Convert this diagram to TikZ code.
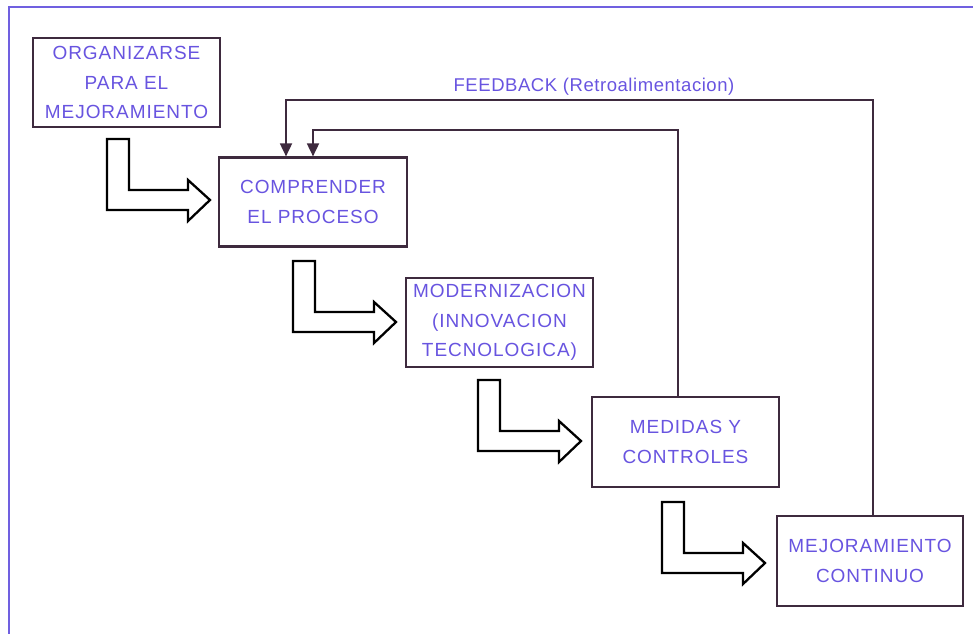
\documentclass[tikz,border=0pt]{standalone}
\usepackage{fontspec}
\setmainfont{Liberation Sans}
\usetikzlibrary{arrows.meta}
\definecolor{txt}{RGB}{104,84,224}
\definecolor{edge}{RGB}{62,42,62}
\definecolor{frame}{RGB}{112,96,224}
\tikzset{
  box/.style={draw=edge, line width=2.2pt, fill=white, minimum width=#1, inner sep=0pt,
    align=center, text=txt, font=\fontsize{19}{29.5}\selectfont\addfontfeatures{LetterSpace=5}},
  fb/.style={draw=edge, line width=1.8pt, -{Triangle[length=13pt,width=12pt]}},
  bentarrow/.pic={
    \draw[line width=2.3pt, line join=miter, fill=white]
      (0,0) -- (22,0) -- (22,51) -- (81,51) -- (81,41) -- (103,61) -- (81,82) -- (81,71) -- (0,71) -- cycle;
  }
}
\begin{document}
\begin{tikzpicture}[x=1pt,y=-1pt]
\useasboundingbox (0,0) rectangle (973,633);
\clip (0,0) rectangle (973,633);
\draw[frame, line width=2pt] (9,7) rectangle (1000,660);

\node[box=187pt, minimum height=89pt] (o1) at (126.5,82.5) {ORGANIZARSE\\PARA EL\\MEJORAMIENTO};
\node[box=188pt, minimum height=89pt] (c2) at (313,202) {COMPRENDER\\EL PROCESO};
\node[box=187pt, minimum height=89pt] (m3) at (499.5,322.5) {MODERNIZACION\\(INNOVACION\\TECNOLOGICA)};
\node[box=187pt, minimum height=90pt] (m4) at (685.5,442) {MEDIDAS Y\\CONTROLES};
\node[box=186pt, minimum height=90pt] (m5) at (870,561) {MEJORAMIENTO\\CONTINUO};

\pic at (107,139) {bentarrow};
\pic at (293,261) {bentarrow};
\pic at (478,380) {bentarrow};
\pic at (662,502) {bentarrow};

\coordinate (a1) at (678,130);
\coordinate (b1) at (313,130);
\coordinate (a2) at (873,100);
\coordinate (b2) at (286,100);
\draw[fb] (m4.north -| a1) -- (a1) -- (b1) -- (c2.north -| b1);
\draw[fb] (m5.north -| a2) -- (a2) -- (b2) -- (c2.north -| b2);

\node[text=txt, font=\fontsize{18.5}{20}\selectfont\addfontfeatures{LetterSpace=3}, anchor=base] (lbl) at (594,91) {FEEDBACK (Retroalimentacion)};
\end{tikzpicture}
\end{document}
